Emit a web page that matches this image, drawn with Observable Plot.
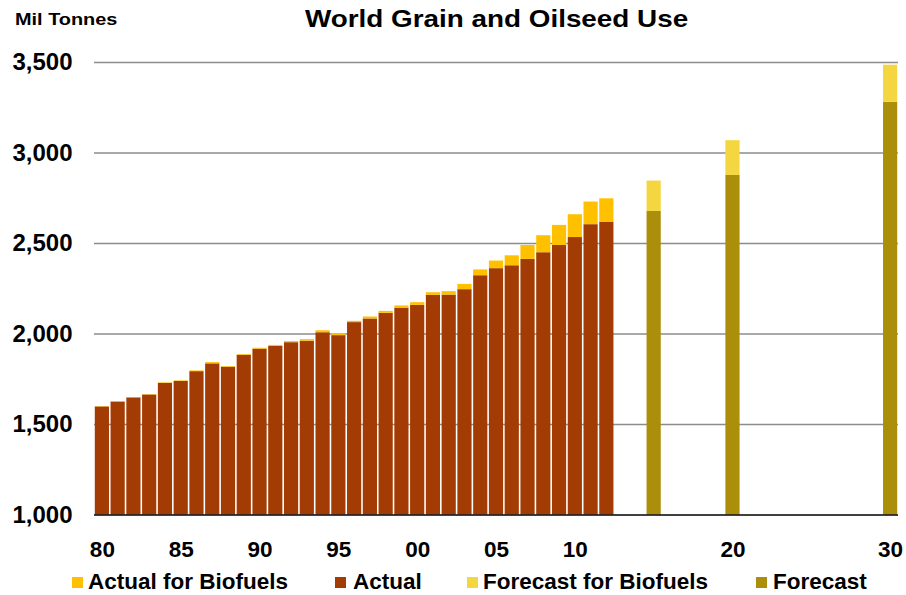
<!DOCTYPE html>
<html>
<head>
<meta charset="utf-8">
<script src="https://cdn.jsdelivr.net/npm/d3@7"></script>
<script src="https://cdn.jsdelivr.net/npm/@observablehq/plot@0.6"></script>
<style>
  html, body { margin: 0; padding: 0; background: #fff; }
  #wrap { position: relative; width: 906px; height: 595px; overflow: hidden; font-family: "Liberation Sans", Arial, sans-serif; font-weight: bold; color: #000; }
  #chart { position: absolute; left: 0; top: 0; }
  .abs { position: absolute; white-space: nowrap; }
  #title { left: 305px; top: 6.7px; font-size: 24px; line-height: 24px; transform: scaleX(1.16); transform-origin: left center; }
  #ylab { left: 15px; top: 10.6px; font-size: 17px; line-height: 17px; transform: scaleX(1.17); transform-origin: left center; }
  .lg { position: absolute; top: 571px; font-size: 22.5px; line-height: 22.5px; white-space: nowrap; }
  .sw { position: absolute; top: 577px; width: 11px; height: 11px; }
</style>
</head>
<body>
<div id="wrap">
  <div id="chart"></div>
  <div class="abs" id="title">World Grain and Oilseed Use</div>
  <div class="abs" id="ylab">Mil Tonnes</div>
  <div id="legend"></div>
</div>
<script>
// ---- Data (million tonnes) ----
const actualYears = [1980,1981,1982,1983,1984,1985,1986,1987,1988,1989,1990,1991,1992,1993,1994,1995,1996,1997,1998,1999,2000,2001,2002,2003,2004,2005,2006,2007,2008,2009,2010,2011,2012];
const actualUse = [1597,1624,1647,1663,1727,1738,1792,1835,1816,1882,1916,1932,1952,1960,2007,1991,2063,2083,2114,2141,2158,2213,2215,2245,2322,2361,2377,2412,2449,2489,2533,2604,2618];
const actualBiofuels = [2,2,2,2,3,3,4,7,4,4,5,5,6,9,11,11,7,11,11,14,15,15,19,29,32,42,55,77,94,111,126,125,129];

const forecastYears = [2015, 2020, 2030];
const forecastUse = [2677, 2876, 3280];
const forecastBiofuels = [168, 192, 205];

const seriesNames = ["Actual for Biofuels", "Actual", "Forecast for Biofuels", "Forecast"];
const seriesColors = ["#FFC000", "#A33C04", "#F4D641", "#AB8F0A"];

const xTickYears = [1980, 1985, 1990, 1995, 2000, 2005, 2010, 2020, 2030];
const yTicks = [1000, 1500, 2000, 2500, 3000, 3500];

// ---- Build long table (base first, biofuels stacked on top) ----
const rows = [];
actualYears.forEach((yr, i) => {
  rows.push({year: yr, value: actualUse[i], series: "Actual", order: 0});
  rows.push({year: yr, value: actualBiofuels[i], series: "Actual for Biofuels", order: 1});
});
forecastYears.forEach((yr, i) => {
  rows.push({year: yr, value: forecastUse[i], series: "Forecast", order: 0});
  rows.push({year: yr, value: forecastBiofuels[i], series: "Forecast for Biofuels", order: 1});
});

const allYears = d3.range(1980, 2031);
const font = "'Liberation Sans', Arial, sans-serif";

const plot = Plot.plot({
  width: 906,
  height: 595,
  marginTop: 62,
  marginBottom: 80.5,
  marginLeft: 94,
  marginRight: 8,
  style: {fontFamily: font, background: "transparent", overflow: "visible"},
  x: {type: "band", domain: allYears, paddingInner: 0.1, paddingOuter: 0.05},
  y: {domain: [1000, 3500]},
  color: {domain: seriesNames, range: seriesColors},
  marks: [
    Plot.ruleY(yTicks.filter(d => d > 1000), {stroke: "#8c8c8c", strokeWidth: 1.5}),
    Plot.barY(rows, Plot.stackY({
      x: "year", y: "value", fill: "series", order: "order", clip: true
    })),
    Plot.ruleY([1000], {stroke: "#000", strokeWidth: 1.5}),
    Plot.axisY({ticks: yTicks, tickFormat: d3.format(","), tickSize: 0, tickPadding: 22,
      fontSize: 24, fontWeight: "bold", label: null}),
    Plot.axisX({ticks: xTickYears, tickFormat: d => String(d % 100).padStart(2, "0"),
      tickSize: 0, tickPadding: 26, fontSize: 22.5, fontWeight: "bold", label: null})
  ]
});
document.getElementById("chart").appendChild(plot);

// ---- Legend ----
const swatchX = [72, 335, 467, 756];
const textX = [88, 353, 483, 773];
const legend = document.getElementById("legend");
seriesNames.forEach((name, i) => {
  const sw = document.createElement("div");
  sw.className = "sw";
  sw.style.left = swatchX[i] + "px";
  sw.style.background = seriesColors[i];
  legend.appendChild(sw);
  const t = document.createElement("div");
  t.className = "lg";
  t.style.left = textX[i] + "px";
  t.textContent = name;
  legend.appendChild(t);
});
</script>
</body>
</html>
